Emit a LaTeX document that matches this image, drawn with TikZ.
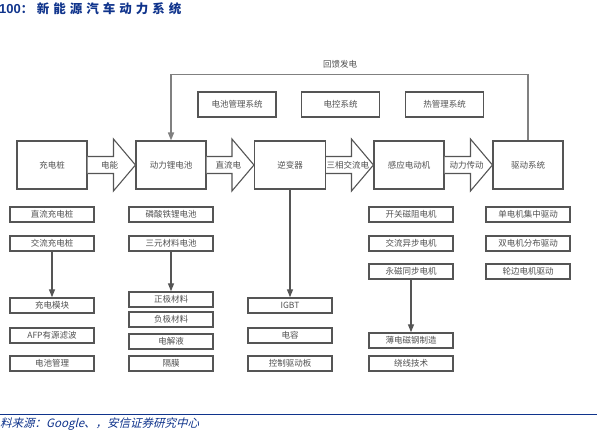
\documentclass[tikz,border=0pt]{standalone}
\usepackage{fontspec}
\setmainfont{Noto Sans CJK SC}
\newfontfamily\titlefont[LetterSpace=32]{Noto Sans CJK SC}
\newfontfamily\numfont{Liberation Sans}
\newfontfamily\footfont[FakeSlant=0.25]{Noto Sans CJK SC}
\usetikzlibrary{calc,arrows.meta}
\definecolor{rptblue}{RGB}{16,52,140}
\definecolor{linegray}{RGB}{85,85,85}
\definecolor{txtgray}{RGB}{80,80,80}
\tikzset{
  mainbox/.style={draw=linegray,line width=1.1pt,minimum width=70pt,minimum height=48pt,inner sep=0pt,
    font=\fontsize{8.5}{10}\selectfont,text=txtgray},
  topbox/.style={draw=linegray,line width=1.1pt,minimum width=78pt,minimum height=25pt,inner sep=0pt,
    font=\fontsize{8.5}{10}\selectfont,text=txtgray},
  subbox/.style={draw=linegray,line width=1.4pt,minimum width=84pt,minimum height=15pt,inner sep=0pt,
    font=\fontsize{8.5}{10}\selectfont,text=txtgray},
  blk/.style={draw=linegray,line width=1.1pt,fill=white,line join=miter},
  lbl/.style={font=\fontsize{8.5}{10}\selectfont,text=txtgray,inner sep=0pt},
  conn/.style={draw=linegray,line width=1.3pt,-{Triangle[width=6pt,length=8pt]}},
  fb/.style={draw=gray,line width=1.6pt,-{Triangle[width=6pt,length=8pt]}},
}
\newcommand\blkarrow[3]{%
  \draw[blk] ($(#1.east)+(0,-8.5)$) -- ($(#2.west)+(-22,-8.5)$) -- ($(#2.west)+(-22,-26)$) -- (#2.west)
     -- ($(#2.west)+(-22,26)$) -- ($(#2.west)+(-22,8.5)$) -- ($(#1.east)+(0,8.5)$);
  \node[lbl] at ($(#1.east)!0.5!(#2.west)+(-2,0)$) {#3};}
\begin{document}
\begin{tikzpicture}[x=1pt,y=-1pt]
\useasboundingbox (0,0) rectangle (597,433);
% title
\node[anchor=west,inner sep=0pt,text=rptblue] (title) at (-1,9)
  {{\numfont\bfseries\fontsize{13}{15}\selectfont 100}{\bfseries\fontsize{12}{14}\selectfont ：}\hspace{4pt}{\titlefont\bfseries\fontsize{12.5}{14}\selectfont 新能源汽车动力系统}};
% main row
\node[mainbox] (chg) at (52,165) {充电桩};
\node[mainbox] (bat) at (171,165) {动力锂电池};
\node[mainbox,minimum width=71pt] (inv) at (290,165) {逆变器};
\node[mainbox] (mot) at (409,165) {感应电动机};
\node[mainbox] (drv) at (528,165) {驱动系统};
% top boxes
\node[topbox] (bms) at (237,104.5) {电池管理系统};
\node[topbox] (ecs) at (340.5,104.5) {电控系统};
\node[topbox] (tms) at (444.5,104.5) {热管理系统};
% block arrows
\blkarrow{chg}{bat}{电能}
\blkarrow{bat}{inv}{直流电}
\blkarrow{inv}{mot}{三相交流电}
\blkarrow{mot}{drv}{动力传动}
% feedback
\draw[fb] (drv.north) -- ++(0,-66) -| (bat.north);
\node[lbl] (fbl) at (340,64) {回馈发电};
% column 1
\node[subbox] (c1a) at (52,214.5) {直流充电桩};
\node[subbox] (c1b) at (52,243.5) {交流充电桩};
\node[subbox] (c1c) at (52,305.5) {充电模块};
\node[subbox] (c1d) at (52,335.5) {AFP有源滤波};
\node[subbox] (c1e) at (52,363.5) {电池管理};
% column 2
\node[subbox] (c2a) at (171,214.5) {磷酸铁锂电池};
\node[subbox] (c2b) at (171,243.5) {三元材料电池};
\node[subbox] (c2c) at (171,299.5) {正极材料};
\node[subbox] (c2d) at (171,319.5) {负极材料};
\node[subbox] (c2e) at (171,341.5) {电解液};
\node[subbox] (c2f) at (171,363.5) {隔膜};
% column 3
\node[subbox] (c3a) at (290,305.5) {IGBT};
\node[subbox] (c3b) at (290,335.5) {电容};
\node[subbox] (c3c) at (290,363.5) {控制驱动板};
% column 4
\node[subbox] (c4a) at (411,214.5) {开关磁阻电机};
\node[subbox] (c4b) at (411,243.5) {交流异步电机};
\node[subbox] (c4c) at (411,271.5) {永磁同步电机};
\node[subbox] (c4d) at (411,340.5) {薄电磁钢制造};
\node[subbox] (c4e) at (411,363.5) {绕线技术};
% column 5
\node[subbox] (c5a) at (528,214.5) {单电机集中驱动};
\node[subbox] (c5b) at (528,243.5) {双电机分布驱动};
\node[subbox] (c5c) at (528,271.5) {轮边电机驱动};
% vertical arrows
\draw[conn] (c1b.south) -- (c1c.north);
\draw[conn] (c2b.south) -- (c2c.north);
\draw[conn] (inv.south) -- (c3a.north);
\draw[conn] (c4c.south) -- (c4d.north);
% footer
\coordinate (fl) at (0,414.5);
\coordinate (fr) at (597,414.5);
\draw[rptblue,line width=1pt] (fl) -- (fr);
\node[anchor=west,inner sep=0pt,text=rptblue,font=\footfont\fontsize{11.5}{13}\selectfont] (src) at (0,424)
  {料来源：Google、，安信证券研究中心};
\end{tikzpicture}
\end{document}
